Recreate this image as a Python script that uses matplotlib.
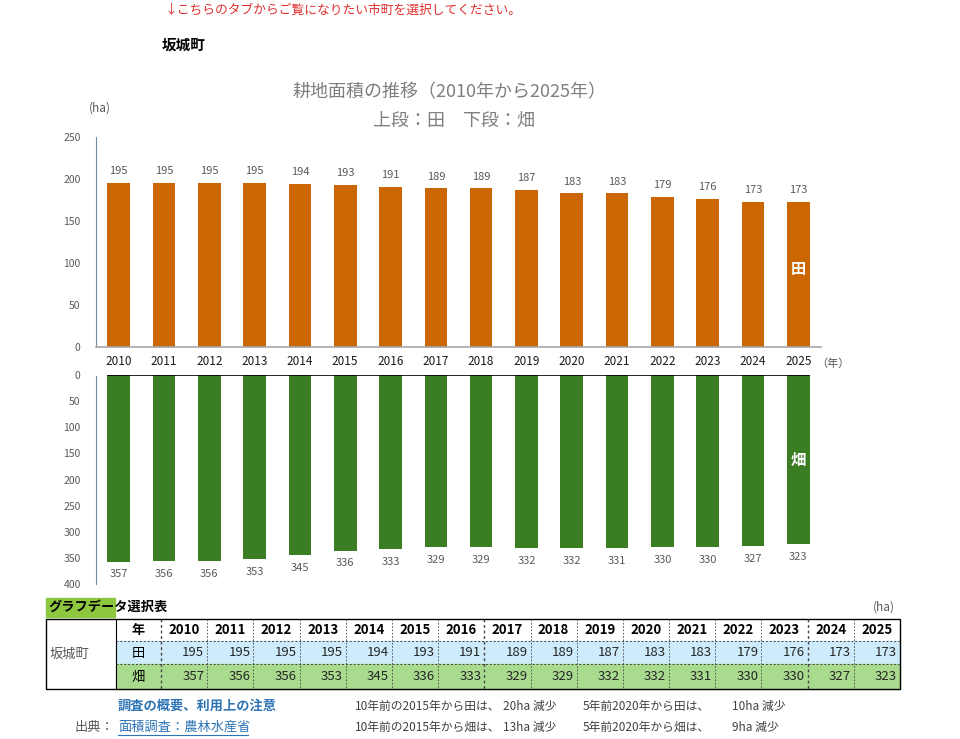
import matplotlib
matplotlib.use("Agg")
import matplotlib.pyplot as plt
from matplotlib.patches import Rectangle

plt.rcParams['font.family'] = ['Noto Sans CJK JP', 'DejaVu Sans']

years = [2010, 2011, 2012, 2013, 2014, 2015, 2016, 2017,
         2018, 2019, 2020, 2021, 2022, 2023, 2024, 2025]
ta = [195, 195, 195, 195, 194, 193, 191, 189, 189, 187, 183, 183, 179, 176, 173, 173]
hatake = [357, 356, 356, 353, 345, 336, 333, 329, 329, 332, 332, 331, 330, 330, 327, 323]
town = '坂城町'
notes_ta = ['10年前の2015年から田は、', '20ha 減少', '5年前2020年から田は、', '10ha 減少']
notes_hatake = ['10年前の2015年から畑は、', '13ha 減少', '5年前2020年から畑は、', '9ha 減少']

ORANGE = '#CC6600'
GREEN = '#3A7D22'
GRAY = '#595959'
W, H = 960, 739

fig = plt.figure(figsize=(9.6, 7.39), dpi=100)

def fx(px):
    return px / W

def fy(py):
    return 1 - py / H

x = list(range(len(years)))

# upper panel: 田
ax1 = fig.add_axes([fx(96), fy(347), fx(821) - fx(96), fy(137) - fy(347)])
ax1.bar(x, ta, width=0.5, color=ORANGE)
ax1.set_xlim(-0.5, 15.5)
ax1.set_ylim(0, 250)
ax1.set_yticks([0, 50, 100, 150, 200, 250])
ax1.set_xticks([])
for s in ['top', 'right']:
    ax1.spines[s].set_visible(False)
ax1.spines['left'].set_color('#6A8CA5')
ax1.spines['bottom'].set_color('#A6A6A6')
ax1.spines['bottom'].set_linewidth(1.2)
ax1.tick_params(axis='y', length=0, labelsize=7.5, labelcolor=GRAY, pad=11)
for i, v in enumerate(ta):
    ax1.text(i, v + 8, str(v), ha='center', va='bottom', fontsize=8, color=GRAY)
ax1.text(15, 93, '田', ha='center', va='center', fontsize=11, color='white', fontweight='bold')

# lower panel: 畑 (inverted)
ax2 = fig.add_axes([fx(96), fy(584), fx(821) - fx(96), fy(375) - fy(584)])
ax2.bar(x, hatake, width=0.5, color=GREEN)
ax2.set_xlim(-0.5, 15.5)
ax2.set_ylim(400, 0)
ax2.set_yticks([0, 50, 100, 150, 200, 250, 300, 350, 400])
ax2.set_xticks([])
for s in ['top', 'right', 'bottom']:
    ax2.spines[s].set_visible(False)
ax2.spines['left'].set_color('#6A8CA5')
ax2.spines['left'].set_bounds(2, 400)
ax2.axhline(0, xmin=0.016, xmax=0.984, color='black', linewidth=1.2)
ax2.tick_params(axis='y', length=0, labelsize=7.5, labelcolor=GRAY, pad=11)
for i, v in enumerate(hatake):
    ax2.text(i, v + 15, str(v), ha='center', va='top', fontsize=8, color=GRAY)
ax2.text(15, 163, '畑', ha='center', va='center', fontsize=11, color='white', fontweight='bold')

# year labels between panels
for i, y in enumerate(years):
    ax1.text(i, -10, str(y), ha='center', va='top', fontsize=8.5, color='#1A1A1A',
             clip_on=False)

# overlay for page texts and the table
lay = fig.add_axes([0, 0, 1, 1])
lay.set_xlim(0, W)
lay.set_ylim(H, 0)
lay.axis('off')

lay.text(833, 364, '（年）', ha='center', va='center', fontsize=8, color=GRAY)
lay.text(100, 108, '(ha)', ha='center', va='center', fontsize=8.5, color=GRAY)
lay.text(450, 92, '耕地面積の推移（2010年から2025年）', ha='center', va='center',
         fontsize=13, color='#7F7F7F')
lay.text(454, 121, '上段：田　下段：畑', ha='center', va='center', fontsize=13, color='#7F7F7F')
lay.text(165, 10, '↓こちらのタブからご覧になりたい市町を選択してください。', ha='left',
         va='center', fontsize=9.2, color='#E03030')
lay.text(162, 45, town, ha='left', va='center', fontsize=10.5, fontweight='bold', color='black')

# table
t_left, c_name, c_year0, t_right = 46, 116, 161, 900
r0, r1, r2, r3 = 619, 641, 664, 689
cw = (t_right - c_year0) / len(years)

lay.add_patch(Rectangle((46, 598), 69, 19, color='#8DC63F', zorder=0))
lay.text(48, 607, 'グラフデータ選択表', ha='left', va='center', fontsize=9.5, fontweight='bold')
lay.text(884, 607, '(ha)', ha='center', va='center', fontsize=8.5, color=GRAY)

lay.add_patch(Rectangle((c_name, r1), t_right - c_name, r2 - r1, color='#CDEBFB', zorder=0))
lay.add_patch(Rectangle((c_name, r2), t_right - c_name, r3 - r2, color='#A9DB8E', zorder=0))
lay.add_patch(Rectangle((t_left, r0), t_right - t_left, r3 - r0, fill=False,
                        edgecolor='black', linewidth=1.0))
lay.plot([c_name, c_name], [r0, r3], color='black', linewidth=0.8)
lay.plot([c_name, t_right], [r1, r1], color='#444444', linewidth=0.7, linestyle=(0, (2, 2)))
lay.plot([c_name, t_right], [r2, r2], color='#444444', linewidth=0.7, linestyle=(0, (2, 2)))
for k in range(len(years)):
    xe = c_year0 + k * cw
    lw = 1.0 if k in (0, 7, 14) else 0.6
    lay.plot([xe, xe], [r0, r3], color='#444444', linewidth=lw, linestyle=(0, (2, 2)))

lay.text(50, 654, town, ha='left', va='center', fontsize=9.5, color=GRAY)
lay.text((c_name + c_year0) / 2, 630, '年', ha='center', va='center', fontsize=9.5, fontweight='bold')
lay.text((c_name + c_year0) / 2, 653, '田', ha='center', va='center', fontsize=9.5)
lay.text((c_name + c_year0) / 2, 677, '畑', ha='center', va='center', fontsize=9.5)
for k, y in enumerate(years):
    xl = c_year0 + k * cw
    lay.text(xl + cw / 2, 630, str(y), ha='center', va='center', fontsize=9.5, fontweight='bold')
    lay.text(xl + cw - 3, 653, str(ta[k]), ha='right', va='center', fontsize=9.5, color='#262626')
    lay.text(xl + cw - 3, 677, str(hatake[k]), ha='right', va='center', fontsize=9.5, color='#262626')

# notes
lay.text(118, 706, '調査の概要、利用上の注意', ha='left', va='center', fontsize=9.5,
         fontweight='bold', color='#2E74B5')
lay.text(75, 727, '出典：', ha='left', va='center', fontsize=9.5, color=GRAY)
lay.text(118, 727, '面積調査：農林水産省', ha='left', va='center', fontsize=9.5, color='#2E74B5')
lay.plot([118, 248], [735, 735], color='#2E74B5', linewidth=0.8)
note_x = [355, 503, 583, 732]
for xs, a, b in zip(note_x, notes_ta, notes_hatake):
    lay.text(xs, 706, a, ha='left', va='center', fontsize=8.5, color='#404040')
    lay.text(xs, 727, b, ha='left', va='center', fontsize=8.5, color='#404040')

fig.savefig('out.png', dpi=100)
